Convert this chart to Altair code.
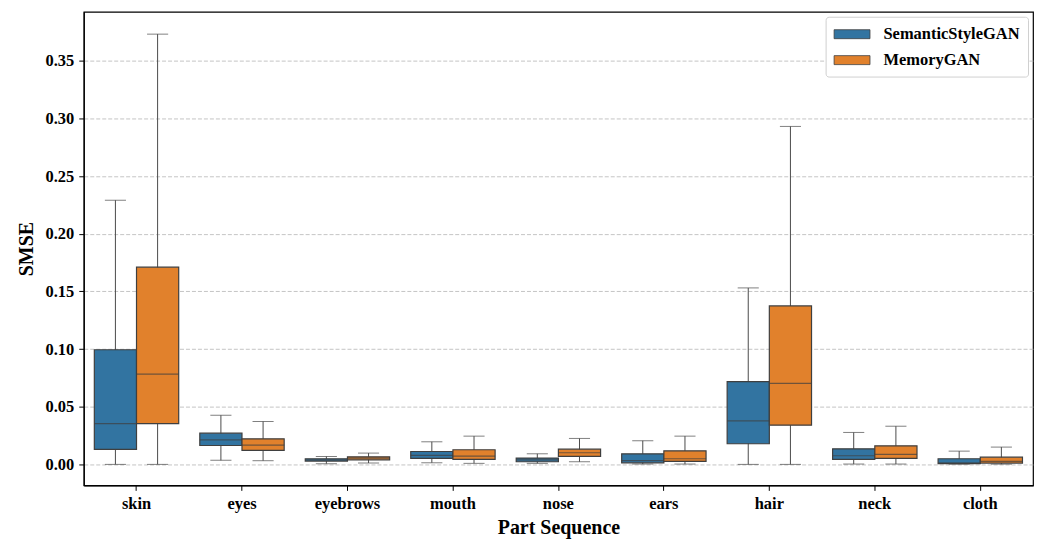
import altair as alt
import pandas as pd

parts = ["skin", "eyes", "eyebrows", "mouth", "nose", "ears", "hair", "neck", "cloth"]
models = ["SemanticStyleGAN", "MemoryGAN"]

# SemanticStyleGAN box statistics
ssg_min = [0.0, 0.0035, 0.0006, 0.0014, 0.0009, 0.0003, 0.0, 0.0003, 0.0002]
ssg_q1 = [0.013, 0.0164, 0.0029, 0.0052, 0.0023, 0.0014, 0.0179, 0.0043, 0.0006]
ssg_med = [0.0354, 0.0213, 0.0040, 0.0078, 0.0040, 0.0032, 0.0378, 0.0075, 0.0014]
ssg_q3 = [0.0994, 0.0271, 0.0049, 0.0112, 0.0055, 0.0092, 0.0717, 0.0135, 0.0049]
ssg_max = [0.229, 0.0426, 0.0069, 0.0196, 0.0092, 0.0205, 0.153, 0.0277, 0.0115]

# MemoryGAN box statistics
mem_min = [0.0, 0.0032, 0.0012, 0.0009, 0.0023, 0.0003, 0.0, 0.0003, 0.0002]
mem_q1 = [0.0354, 0.0121, 0.0040, 0.0043, 0.0069, 0.0026, 0.034, 0.0052, 0.0011]
mem_med = [0.0783, 0.0167, 0.0055, 0.0072, 0.0101, 0.0049, 0.0703, 0.0086, 0.0026]
mem_q3 = [0.171, 0.0222, 0.0066, 0.0127, 0.0132, 0.0118, 0.1374, 0.0161, 0.0063]
mem_max = [0.373, 0.0372, 0.0098, 0.0245, 0.0225, 0.0245, 0.293, 0.0331, 0.015]

y_ticks = [0.0, 0.05, 0.10, 0.15, 0.20, 0.25, 0.30, 0.35]
colors = ["#3274a1", "#e1812c"]

rows = []
for model, mins, q1s, meds, q3s, maxs in [
    (models[0], ssg_min, ssg_q1, ssg_med, ssg_q3, ssg_max),
    (models[1], mem_min, mem_q1, mem_med, mem_q3, mem_max),
]:
    for i, p in enumerate(parts):
        rows.append(dict(part=p, model=model, lo=mins[i], q1=q1s[i],
                         median=meds[i], q3=q3s[i], hi=maxs[i]))
df = pd.DataFrame(rows)

FONT = "Liberation Serif"
W, H = 952, 475
band = W / len(parts)
box_w = band * 0.4

x_enc = alt.X("part:N", sort=parts,
              scale=alt.Scale(paddingInner=0, paddingOuter=0),
              axis=alt.Axis(title="Part Sequence", labelAngle=0))
xo_enc = alt.XOffset("model:N", sort=models,
                     scale=alt.Scale(domain=models, paddingInner=0, paddingOuter=0.25))
y_scale = alt.Scale(domain=[-0.0182, 0.3924], nice=False, zero=False)
y_axis = alt.Axis(title="SMSE", values=y_ticks, format=".2f")

base = alt.Chart(df)

whisker = base.mark_rule(color="#4a4a4a", strokeWidth=1).encode(
    x=x_enc, xOffset=xo_enc,
    y=alt.Y("lo:Q", scale=y_scale, axis=y_axis),
    y2="hi:Q",
)

box = base.mark_bar(stroke="#3f3f3f", strokeWidth=1.2, opacity=1).encode(
    x=x_enc, xOffset=xo_enc,
    y=alt.Y("q1:Q", scale=y_scale, axis=y_axis),
    y2="q3:Q",
    color=alt.Color("model:N", sort=models,
                    scale=alt.Scale(domain=models, range=colors),
                    legend=alt.Legend(title=None)),
)

median = base.mark_tick(orient="horizontal", size=box_w, thickness=1.2,
                        color="#3f3f3f").encode(
    x=x_enc, xOffset=xo_enc,
    y=alt.Y("median:Q", scale=y_scale, axis=y_axis),
)

cap_hi = base.mark_tick(orient="horizontal", size=box_w / 2, thickness=1,
                        color="#4a4a4a").encode(
    x=x_enc, xOffset=xo_enc,
    y=alt.Y("hi:Q", scale=y_scale, axis=y_axis),
)

cap_lo = base.mark_tick(orient="horizontal", size=box_w / 2, thickness=1,
                        color="#4a4a4a").encode(
    x=x_enc, xOffset=xo_enc,
    y=alt.Y("lo:Q", scale=y_scale, axis=y_axis),
)

chart = alt.layer(whisker, box, median, cap_hi, cap_lo).properties(
    width=W, height=H,
    padding={"left": 8, "top": 3, "right": 5, "bottom": 2},
).configure_view(
    stroke="black", strokeWidth=1.2,
).configure_axis(
    labelFont=FONT, labelFontWeight="bold", labelFontSize=16.5, labelColor="black",
    titleFont=FONT, titleFontWeight="bold", titleFontSize=20, titleColor="black",
    domainColor="black", domainWidth=1.2, tickColor="black", tickSize=5, tickWidth=1,
    labelPadding=5,
).configure_axisY(
    grid=True, gridDash=[4, 2], gridColor="#b5b5b5", gridWidth=0.8,
    titlePadding=9,
).configure_axisX(
    grid=False, titlePadding=6,
).configure_legend(
    orient="top-right", offset=5, padding=8,
    strokeColor="#d0d0d0", fillColor="white", cornerRadius=3,
    labelFont=FONT, labelFontWeight="bold", labelFontSize=16.5, labelColor="black",
    symbolType="M-2,-0.5H2V0.5H-2Z", symbolSize=324, symbolOpacity=1,
    symbolStrokeColor="#3f3f3f", symbolStrokeWidth=0.8,
    symbolOffset=9, labelOffset=22, rowPadding=8,
)

chart.save("out.html", embed_options={"renderer": "svg", "actions": False})
